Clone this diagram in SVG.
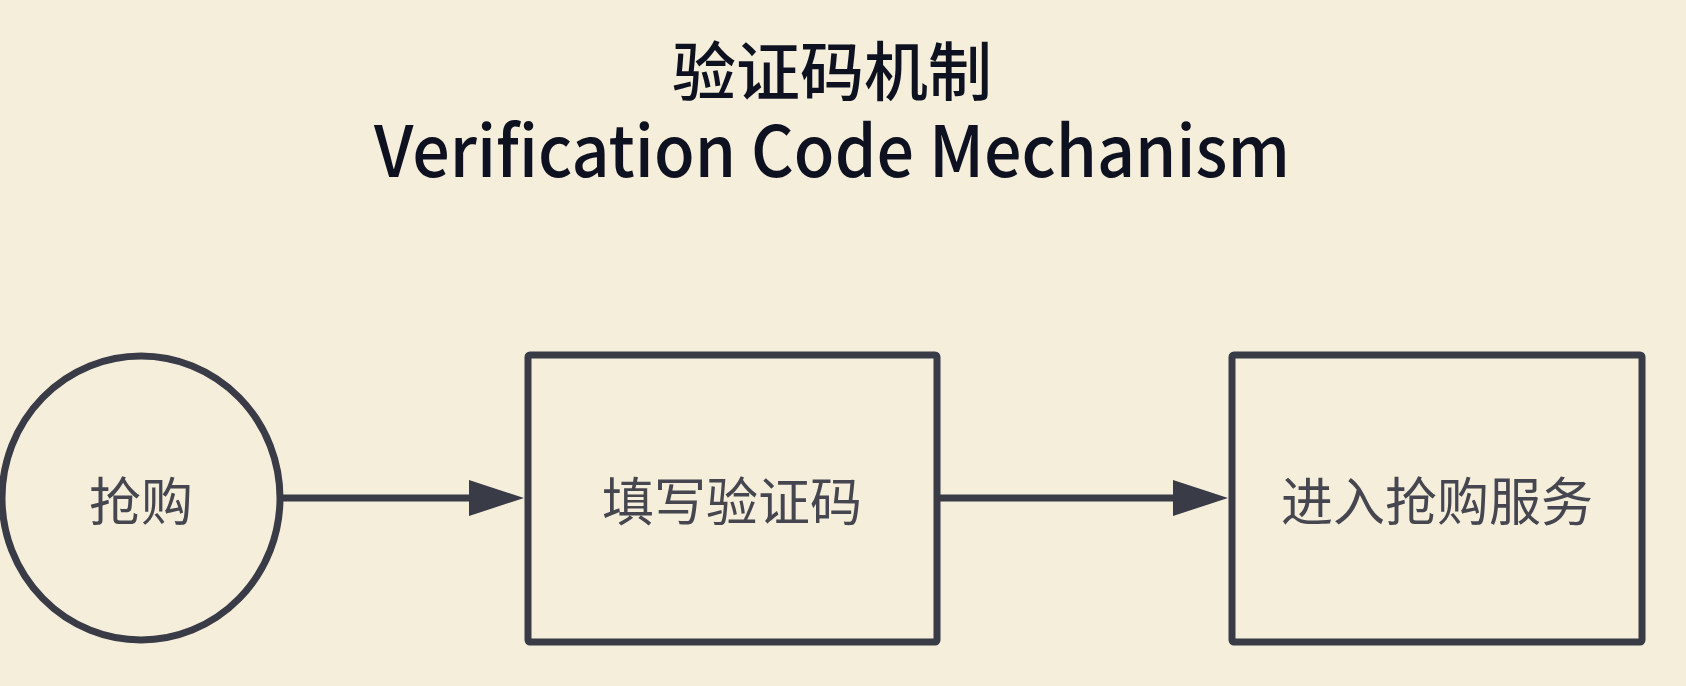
<svg xmlns="http://www.w3.org/2000/svg" width="1686" height="686" viewBox="0 0 1686 686">
  <defs>
    <style>
      .title { font-family: "Noto Sans CJK SC", "Noto Sans", sans-serif; fill: #0e1120; text-anchor: middle; font-weight: 500; }
      .node { fill: none; stroke: #393b47; stroke-width: 7; }
      .label { font-family: "Noto Sans CJK SC", "Noto Sans", sans-serif; font-size: 52px; fill: #45464f; text-anchor: middle; dominant-baseline: central; }
      .edge { stroke: #393b47; stroke-width: 7; fill: none; }
      .head { fill: #393b47; stroke: none; }
    </style>
  </defs>
  <rect width="1686" height="686" fill="#f5eedb"/>
  <g id="title">
    <text class="title" x="832" y="95" font-size="64">验证码机制</text>
    <text class="title" x="832" y="177" font-size="70" textLength="916" lengthAdjust="spacingAndGlyphs">Verification Code Mechanism</text>
  </g>
  <g id="connectors">
    <line class="edge" x1="283" y1="498" x2="472" y2="498"/>
    <polygon class="head" points="469,480 524,498 469,516"/>
    <line class="edge" x1="937" y1="498" x2="1176" y2="498"/>
    <polygon class="head" points="1173,480 1228,498 1173,516"/>
  </g>
  <g id="node-start">
    <ellipse class="node" cx="141" cy="498" rx="139" ry="142"/>
    <text class="label" x="141" y="498">抢购</text>
  </g>
  <g id="node-captcha">
    <rect class="node" x="528" y="355" width="409" height="287" rx="2"/>
    <text class="label" x="732" y="498">填写验证码</text>
  </g>
  <g id="node-service">
    <rect class="node" x="1232" y="355" width="410" height="287" rx="2"/>
    <text class="label" x="1437" y="498">进入抢购服务</text>
  </g>
</svg>
